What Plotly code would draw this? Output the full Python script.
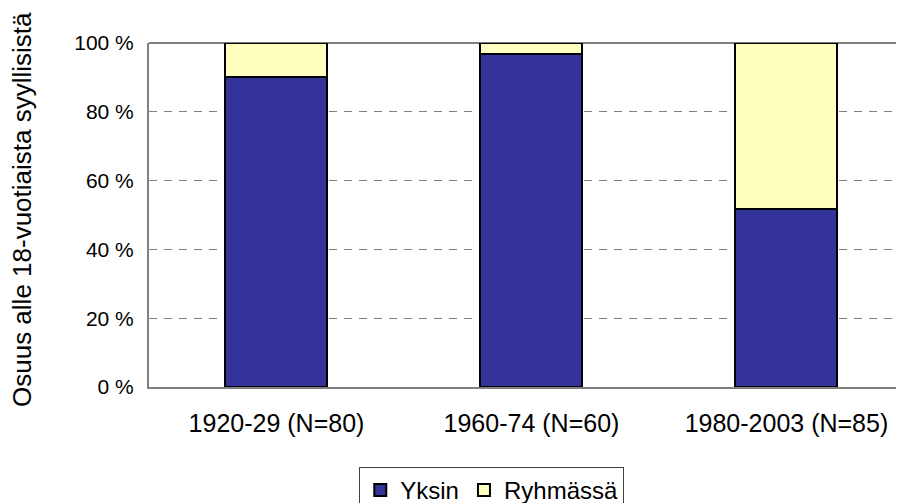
import plotly.graph_objects as go

categories = ["1920-29 (N=80)", "1960-74 (N=60)", "1980-2003 (N=85)"]
yksin = [90.0, 96.7, 51.8]
ryhmassa = [10.0, 3.3, 48.2]
y_ticks = [0, 20, 40, 60, 80, 100]
y_tick_labels = ["0 %", "20 %", "40 %", "60 %", "80 %", "100 %"]

FONT = "Liberation Sans, Arial, sans-serif"

fig = go.Figure()
fig.add_trace(go.Bar(x=categories, y=yksin, name="Yksin",
                     marker=dict(color="#333399", line=dict(color="#000000", width=2))))
fig.add_trace(go.Bar(x=categories, y=ryhmassa, name="Ryhmässä",
                     marker=dict(color="#FFFFC0", line=dict(color="#000000", width=2))))

fig.update_layout(
    width=896, height=495,
    barmode="stack", bargap=0.6,
    paper_bgcolor="white", plot_bgcolor="white",
    margin=dict(l=141, r=0, t=35, b=116, autoexpand=False),
    font=dict(family=FONT, color="#000000"),
    showlegend=True,
    legend=dict(orientation="h", x=0.454, xanchor="center", y=-0.2326, yanchor="top",
                font=dict(size=24, family=FONT), bordercolor="#404040", borderwidth=1,
                bgcolor="white", traceorder="normal"),
    xaxis=dict(type="category", range=[-0.5, 2.461], showline=True, linecolor="#808080",
               linewidth=2, tickfont=dict(size=25), ticks="", showgrid=False,
               ticklabelstandoff=13),
    yaxis=dict(range=[0, 100], tickmode="array", tickvals=y_ticks, ticktext=y_tick_labels,
               showline=True, linecolor="#808080", linewidth=2, tickfont=dict(size=21),
               ticks="", ticklabelstandoff=9, showgrid=True, gridcolor="#808080",
               gridwidth=1, griddash="8px,7px", zeroline=False),
    shapes=[dict(type="line", xref="paper", yref="paper", x0=0, x1=1, y0=1, y1=1,
                 line=dict(color="#808080", width=2), layer="below")],
    annotations=[dict(text="Osuus alle 18-vuotiaista syyllisistä", textangle=-90,
                      xref="paper", yref="paper", x=(14 - 141) / 755, y=(379 - 202) / 344,
                      xanchor="center", yanchor="middle", showarrow=False,
                      font=dict(size=26, family=FONT))],
)

fig.write_html("out.html")
